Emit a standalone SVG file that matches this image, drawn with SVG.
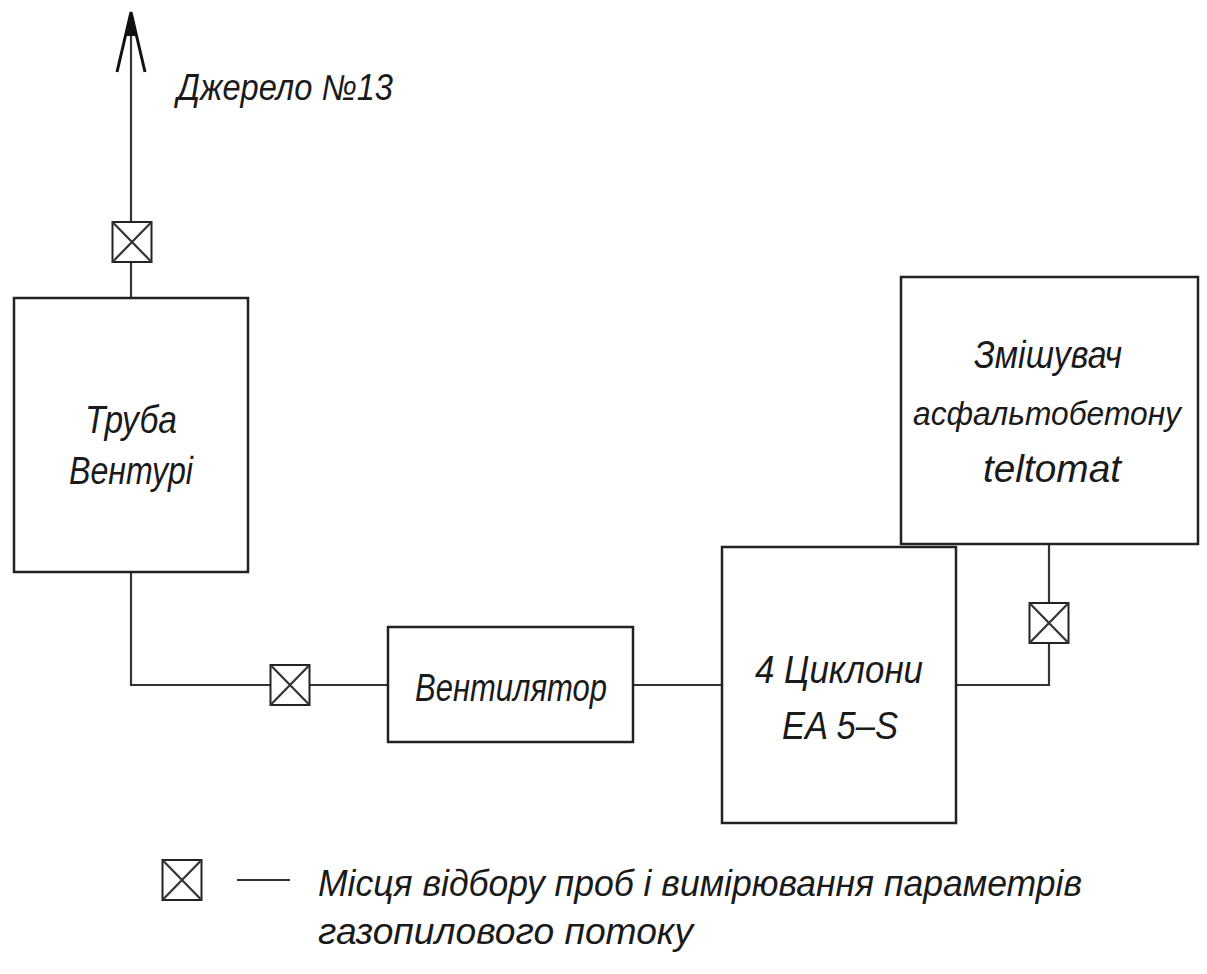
<svg xmlns="http://www.w3.org/2000/svg" width="1207" height="974" viewBox="0 0 1207 974">
<style>
.box{fill:none;stroke:#222;stroke-width:2.5}
.ln{fill:none;stroke:#333;stroke-width:2.2}
.sp{fill:#fff;stroke:#222;stroke-width:2}
.t{font-family:"Liberation Sans","DejaVu Sans",sans-serif;font-style:italic;font-size:38px;fill:#1a1a1a;text-anchor:middle}
.tl{font-family:"Liberation Sans","DejaVu Sans",sans-serif;font-style:italic;font-size:36px;fill:#1a1a1a}
</style>
<defs>
<g id="smp">
<rect class="sp" x="-19.5" y="-20" width="39" height="40"/>
<path class="ln" d="M-19.5,-20 L19.5,20 M19.5,-20 L-19.5,20" stroke-width="1.6"/>
</g>
</defs>
<rect width="1207" height="974" fill="#fff"/>
<g id="connectors">
<path class="ln" d="M131,298 V14"/>
<path d="M117,72 L131,12 L145,72" fill="none" stroke="#111" stroke-width="3"/>
<path d="M126,36 L131,12 L136,36 Z" fill="#111"/>
<path class="ln" d="M131,572 V685 H388"/>
<path class="ln" d="M633,685 H722"/>
<path class="ln" d="M956,685 H1049 V544"/>
</g>
<g id="sample-top"><use href="#smp" x="132" y="242"/></g>
<g id="sample-mid"><use href="#smp" x="290" y="685"/></g>
<g id="sample-right"><use href="#smp" x="1049" y="623"/></g>
<g id="label-source"><text class="tl" x="177" y="100" textLength="216" lengthAdjust="spacingAndGlyphs">Джерело №13</text></g>
<g id="venturi">
<rect class="box" x="14" y="298" width="234" height="274"/>
<text class="t" x="131" y="433" textLength="92" lengthAdjust="spacingAndGlyphs">Труба</text>
<text class="t" x="131" y="484" textLength="124" lengthAdjust="spacingAndGlyphs">Вентурі</text>
</g>
<g id="fan">
<rect class="box" x="388" y="627" width="245" height="115"/>
<text class="t" x="511" y="701" textLength="192" lengthAdjust="spacingAndGlyphs">Вентилятор</text>
</g>
<g id="cyclones">
<rect class="box" x="722" y="547" width="234" height="276"/>
<text class="t" x="839" y="683" textLength="168" lengthAdjust="spacingAndGlyphs">4 Циклони</text>
<text class="t" x="840" y="739" textLength="116" lengthAdjust="spacingAndGlyphs">EA 5–S</text>
</g>
<g id="mixer">
<rect class="box" x="901" y="277" width="297" height="267"/>
<text class="t" x="1048" y="368" textLength="148" lengthAdjust="spacingAndGlyphs">Змішувач</text>
<text class="t" x="1047" y="425" style="font-size:34px" textLength="268" lengthAdjust="spacingAndGlyphs">асфальтобетону</text>
<text class="t" x="1052" y="482" textLength="138" lengthAdjust="spacingAndGlyphs">teltomat</text>
</g>
<g id="legend">
<use href="#smp" x="182" y="880"/>
<path class="ln" d="M237,880 H290"/>
<text class="tl" x="318" y="896" textLength="764" lengthAdjust="spacingAndGlyphs">Місця відбору проб і вимірювання параметрів</text>
<text class="tl" x="318" y="944" textLength="375" lengthAdjust="spacingAndGlyphs">газопилового потоку</text>
</g>
</svg>
